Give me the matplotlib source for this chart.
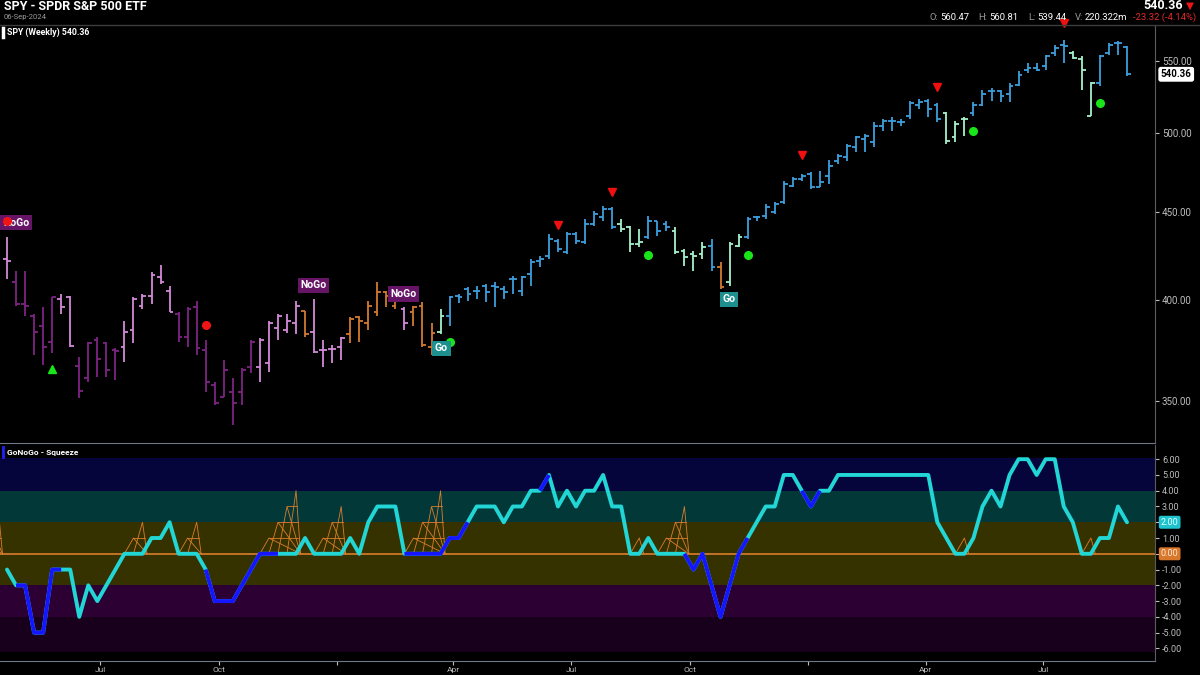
import numpy as np
import pandas as pd
import matplotlib
matplotlib.use('Agg')
import matplotlib.pyplot as plt
from matplotlib.lines import Line2D
from matplotlib.ticker import NullLocator, NullFormatter

plt.rcParams['font.family'] = ['Roboto', 'DejaVu Sans']

# weekly SPY bars (22-Apr-2022 .. 06-Sep-2024)
opens = [422.5, 409.7, 397.9, 391.5, 386.3, 378.6, 400.5, 401.6, 366.7, 360.9,
         379.6, 378.1, 374.6, 376.1, 384.7, 396.8, 402.1, 412.4, 404.8, 392.6,
         381.1, 396.3, 374.6, 357.5, 351.8, 354.2, 354.2, 366.2, 366.2, 368.1,
         385.7, 384.7, 388.3, 394.1, 383.7, 374.6, 375.1, 376.1, 382.2, 391.0,
         388.3, 393.6, 404.3, 396.8, 395.2, 393.6, 396.8, 376.1, 383.7, 391.5,
         402.1, 405.9, 404.8, 407.5, 407.5, 405.9, 411.3, 404.8, 414.1, 421.4,
         424.2, 432.8, 426.5, 436.9, 432.2, 442.7, 446.9, 451.7, 442.7, 441.0,
         431.1, 435.1, 444.5, 442.7, 438.6, 427.1, 425.4, 425.4, 429.9, 418.0,
         409.7, 429.9, 435.1, 446.9, 447.5, 449.9, 456.0, 465.8, 470.2, 473.4,
         465.2, 472.1, 481.6, 484.2, 490.7, 496.0, 494.0, 504.7, 508.1, 507.4,
         511.4, 518.4, 521.8, 518.4, 512.9, 497.3, 509.4, 512.9, 518.4, 528.2,
         528.2, 526.7, 532.4, 543.2, 544.7, 546.1, 555.7, 561.7, 555.7, 551.3,
         511.4, 533.9, 555.7, 563.2, 560.47]
highs = [435.1, 415.8, 415.8, 392.6, 396.3, 401.6, 403.2, 402.1, 371.1, 378.6,
         381.1, 378.6, 375.6, 388.9, 401.6, 403.2, 415.2, 419.1, 407.5, 393.6,
         396.3, 399.4, 379.6, 358.9, 369.6, 360.9, 365.7, 379.6, 380.6, 388.9,
         392.6, 392.6, 399.4, 394.1, 400.5, 379.6, 377.1, 381.1, 391.0, 391.5,
         399.4, 409.7, 404.8, 404.3, 396.3, 396.8, 398.9, 388.3, 395.2, 402.1,
         403.2, 407.0, 407.5, 408.6, 409.7, 407.5, 413.0, 413.0, 422.5, 424.2,
         436.9, 433.9, 438.0, 438.0, 445.7, 450.5, 453.5, 452.9, 445.7, 441.6,
         439.8, 447.5, 444.5, 444.5, 441.0, 428.2, 427.1, 432.2, 433.9, 420.8,
         432.2, 436.9, 446.9, 447.5, 454.7, 456.0, 468.9, 471.5, 473.4, 474.6,
         475.2, 482.3, 486.2, 492.7, 498.0, 499.3, 507.4, 509.4, 510.8, 509.4,
         521.8, 523.2, 523.2, 519.8, 514.2, 508.1, 510.8, 521.1, 528.9, 530.3,
         528.9, 533.9, 542.5, 548.3, 548.3, 554.2, 561.7, 565.4, 557.2, 553.5,
         535.2, 554.2, 563.2, 564.7, 560.81]
lows = [411.3, 396.8, 391.5, 372.1, 367.2, 373.1, 392.6, 376.1, 351.3, 358.9,
        361.3, 361.3, 359.9, 368.6, 378.1, 395.2, 397.9, 408.6, 393.6, 378.6,
        376.1, 372.1, 354.2, 348.1, 351.8, 338.9, 348.1, 363.3, 358.9, 363.7,
        379.6, 383.2, 382.2, 381.1, 373.1, 366.2, 368.1, 369.6, 378.1, 378.6,
        384.7, 391.5, 396.3, 395.2, 384.7, 386.3, 376.1, 372.1, 382.2, 386.3,
        398.4, 399.4, 400.5, 398.9, 396.3, 400.5, 403.2, 402.1, 407.5, 418.0,
        422.5, 426.5, 425.4, 431.1, 431.1, 441.6, 444.5, 439.8, 438.0, 426.5,
        429.3, 433.9, 435.7, 438.6, 425.4, 418.6, 415.8, 422.5, 415.8, 405.9,
        407.5, 429.3, 433.9, 444.5, 445.7, 448.7, 454.7, 465.2, 468.9, 463.9,
        465.2, 467.1, 479.7, 481.6, 487.4, 487.4, 490.7, 501.4, 501.4, 504.7,
        509.4, 516.3, 510.8, 507.4, 492.7, 494.0, 498.0, 511.4, 517.7, 521.8,
        521.1, 521.1, 531.7, 541.1, 542.5, 543.2, 553.5, 548.3, 551.3, 528.9,
        511.4, 531.7, 554.2, 554.2, 539.44]
closes = [421.4, 397.9, 396.8, 383.7, 376.1, 401.6, 396.3, 376.6, 354.6, 378.1,
          370.1, 364.7, 374.1, 383.7, 400.5, 402.1, 413.5, 409.7, 393.6, 381.1,
          395.2, 375.6, 358.9, 349.0, 364.7, 349.0, 364.7, 378.6, 379.6, 388.3,
          391.5, 388.9, 396.8, 382.2, 373.6, 374.6, 375.1, 380.6, 389.9, 388.9,
          396.8, 404.3, 402.1, 400.5, 388.3, 396.3, 377.1, 383.2, 391.5, 401.6,
          401.6, 403.2, 404.8, 404.3, 407.0, 404.3, 411.3, 412.4, 420.8, 422.5,
          433.9, 428.2, 436.9, 432.8, 442.7, 448.7, 451.7, 441.0, 439.8, 431.1,
          432.2, 444.5, 438.6, 441.0, 426.5, 423.6, 424.2, 429.3, 418.0, 407.0,
          431.1, 435.1, 445.7, 446.9, 452.9, 454.7, 467.1, 470.2, 472.1, 465.2,
          468.3, 478.4, 484.9, 491.4, 497.3, 498.0, 504.7, 508.1, 508.1, 507.4,
          519.8, 521.1, 516.3, 509.4, 494.7, 506.1, 509.4, 518.4, 526.7, 528.2,
          525.3, 531.7, 539.6, 544.7, 543.2, 553.5, 559.4, 560.9, 552.0, 543.2,
          533.9, 553.5, 561.7, 563.2, 540.36]

# GoNoGo state per bar: P strong nogo, p weak nogo, o neutral, g weak go, b strong go
bar_state = ("pPPPPPppPPPPPppppppPPPPPP"
             "PPPpppppoppppoooooopooogb"
             "bbbbbbbbbbbbbbbbbbgggbbbg"
             "gggboggbbbbbbbbbbbbbbbbbb"
             "bbbbgggbbbbbbbbbbbgggbbbb")

# GoNoGo oscillator
osc = [-1, -2, -2, -5, -5, -1, -1, -1, -4, -2,
       -3, -2, -1, 0, 0, 0, 1, 1, 2, 0,
       0, 0, -1, -3, -3, -3, -2, -1, 0, 0,
       0, 0, 0, 1, 0, 0, 0, 0, 1, 0,
       2, 3, 3, 3, 0, 0, 0, 0, 0, 1,
       1, 2, 3, 3, 3, 2, 3, 3, 4, 4,
       5, 3, 4, 3, 4, 4, 5, 3, 3, 0,
       0, 1, 0, 0, 0, 0, -1, 0, -2, -4,
       -2, 0, 1, 2, 3, 3, 5, 5, 4, 3,
       4, 4, 5, 5, 5, 5, 5, 5, 5, 5,
       5, 5, 5, 2, 1, 0, 0, 1, 3, 4,
       3, 5, 6, 6, 5, 6, 6, 3, 2, 0,
       0, 1, 1, 3, 2]
osc_blue_runs = [(1, 6), (22, 30), (44, 51), (59, 60), (75, 82), (88, 90)]
squeeze_peak_bar = [-1, 15, 21, 32, 37, 48, 70, 75, 106, 120]
squeeze_peak_level = [3, 2, 2, 4, 3, 4, 1, 3, 1, 1]

# signals
go_dot_bar = [49, 71, 82, 107, 121]
go_dot_price = [378.6, 424.8, 424.8, 501.4, 520.4]
nogo_dot_bar = [0, 22]
nogo_dot_price = [444.5, 387.3]
ct_up_bar = [5]
ct_up_price = [365.2]
ct_down_bar = [61, 67, 88, 103, 117]
ct_down_price = [442.2, 462.1, 485.5, 531.0, 578.4]
label_text = ["NoGo", "NoGo", "NoGo", "Go", "Go"]
label_bar = [1.0, 33.9, 43.9, 48.1, 79.9]
label_price = [443.6, 408.1, 403.4, 375.3, 400.5]

price_ticks = [350, 400, 450, 500, 550]
osc_ticks = [6, 5, 4, 3, 2, 1, 0, -1, -2, -3, -4, -5, -6]
first_week = pd.Timestamp('2022-04-20')
quarter_starts = pd.date_range('2022-07-01', '2024-07-01', freq='QS')

bar_colors = {'P': '#7e2384', 'p': '#d48ad8', 'o': '#d27a30',
              'g': '#a6f2cc', 'b': '#3c9fdc'}
CYAN = '#22d6d6'
BLUE = '#1515ff'
ORANGE = '#dc7d2c'
GRAY = '#bdbdbd'

W, H = 1200, 675
fig = plt.figure(figsize=(12, 6.75), dpi=100, facecolor='black')
ax = fig.add_axes([0, 1 - 443 / H, 1155 / W, (443 - 25) / H])
ax2 = fig.add_axes([0, 1 - 661 / H, 1155 / W, (661 - 445) / H])
for a in (ax, ax2):
    a.set_facecolor('black')
    for s in ('left', 'top'):
        a.spines[s].set_visible(False)
    a.spines['right'].set_color('#5c5c5c')
    a.spines['bottom'].set_color('#6f7886')

# ---- price panel
x = np.arange(len(closes))
cols = [bar_colors[c] for c in bar_state]
ax.vlines(x, lows, highs, colors=cols, lw=1.3)
ax.hlines(opens, x - 0.42, x, colors=cols, lw=1.3)
ax.hlines(closes, x, x + 0.42, colors=cols, lw=1.3)

ax.plot(go_dot_bar, go_dot_price, 'o', color='#19e619', ms=5.5, zorder=5)
ax.plot(ct_up_bar, ct_up_price, '^', color='#19e619', ms=6, zorder=5)
ax.plot(ct_down_bar, ct_down_price, 'v', color='#f01010', ms=6, zorder=5,
        clip_on=False)
for t, b, p in zip(label_text, label_bar, label_price):
    fc = '#1d8f8f' if t == 'Go' else '#661466'
    ax.text(b, p, t, color='white', fontsize=7.5, fontweight='bold',
            ha='center', va='center', zorder=6,
            bbox=dict(boxstyle='square,pad=0.25', fc=fc, ec='none'))
ax.plot(nogo_dot_bar, nogo_dot_price, 'o', color='#f01414', ms=5.5, zorder=7)

ax.set_yscale('log')
ax.set_ylim(330.8, 577)
ax.set_xlim(-0.775, 127.1)
ax.set_yticks(price_ticks)
ax.set_yticklabels([f'{v:.2f}' for v in price_ticks])
ax.yaxis.set_minor_locator(NullLocator())
ax.yaxis.set_minor_formatter(NullFormatter())
ax.set_xticks([])
ax.tick_params(axis='y', which='both', left=False, labelleft=False,
               right=True, labelright=True, colors=GRAY, labelsize=7,
               length=3, pad=2)
ax.text(1.005, closes[-1], f'{closes[-1]:.2f}', transform=ax.get_yaxis_transform(),
        fontsize=7, fontweight='bold', color='black', va='center', ha='left',
        clip_on=False, bbox=dict(boxstyle='round,pad=0.25', fc='white', ec='none'))

# ---- oscillator panel
bands = [(4, 6.1, '#05053c'), (2, 4, '#033838'), (-2, 2, '#363200'),
         (-4, -2, '#2c0032'), (-6.2, -4, '#18001c')]
for lo, hi, c in bands:
    ax2.axhspan(lo, hi, color=c, lw=0, zorder=0)
ax2.axhline(0, color=ORANGE, lw=1.2, zorder=2)

for apex, n in zip(squeeze_peak_bar, squeeze_peak_level):
    a0 = apex - n
    for m in range(1, n + 1):
        ax2.plot([a0 + m - 1, a0 + m, a0 + n + 0.5], [0, m, 0], color=ORANGE,
                 lw=0.6, zorder=2)
    for l in range(1, n):
        ax2.plot([a0 + l, a0 + n + 0.5 - 0.5 * l / n], [l, l], color=ORANGE,
                 lw=0.6, zorder=2)

ax2.plot(x, osc, color=CYAN, lw=2.8, zorder=3, solid_capstyle='round')
for s, e in osc_blue_runs:
    ax2.plot(x[s:e + 1], osc[s:e + 1], color=BLUE, lw=2.8, zorder=4,
             solid_capstyle='butt')

ax2.set_xlim(-0.775, 127.1)
ax2.set_ylim(-6.8, 6.9)
ax2.set_yticks(osc_ticks)
ax2.set_yticklabels([f'{v:.2f}' for v in osc_ticks])
ax2.tick_params(axis='y', left=False, labelleft=False, right=True,
                labelright=True, colors=GRAY, labelsize=6.5, length=3, pad=2)
qpos = [(d - first_week).days / 7 for d in quarter_starts]
ax2.set_xticks(qpos)
ax2.set_xticklabels(['' if d.month == 1 else d.strftime('%b') for d in quarter_starts])
ax2.tick_params(axis='x', colors=GRAY, labelsize=6, length=3, pad=1)

ax2.text(1.005, osc[-1], f'{osc[-1]:.2f}', transform=ax2.get_yaxis_transform(),
         fontsize=6.5, color='#e6ffff', va='center', ha='left', clip_on=False,
         bbox=dict(boxstyle='round,pad=0.22', fc='#1fc3cf', ec='none'))
ax2.text(1.005, 0, '0.00', transform=ax2.get_yaxis_transform(),
         fontsize=6.5, color='#fbe9d8', va='center', ha='left', clip_on=False,
         bbox=dict(boxstyle='round,pad=0.22', fc='#d9782a', ec='none'))

# ---- header
def fx(px):
    return px / W


def fy(py):
    return 1 - py / H


fig.add_artist(Line2D([0, 1], [fy(24.5), fy(24.5)], color='#3d3d3d', lw=1,
                      transform=fig.transFigure))
fig.text(fx(4), fy(9.5), 'SPY - SPDR S&P 500 ETF', color='white', fontsize=9,
         fontweight='bold', va='baseline')
fig.text(fx(4), fy(17), '06-Sep-2024', color='#9a9a9a', fontsize=5.5, va='center')
fig.add_artist(Line2D([fx(3), fx(3)], [fy(28), fy(37)], color='white', lw=2.5,
                      transform=fig.transFigure))
fig.text(fx(7), fy(32.5), 'SPY (Weekly) 540.36', color='white', fontsize=6.3,
         fontweight='bold', va='center')
fig.text(fx(1183), fy(9), '540.36', color='white', fontsize=9,
         fontweight='bold', va='baseline', ha='right')
fig.text(fx(1186), fy(9), '▼', color='#f01414', fontsize=7.5, va='baseline')

hdr = [(929, 'O:', '#9a9a9a'), (940, '560.47', 'white'),
       (978, 'H:', '#9a9a9a'), (989, '560.81', 'white'),
       (1028, 'L:', '#9a9a9a'), (1037, '539.44', 'white'),
       (1075, 'V:', '#9a9a9a'), (1085, '220.322m', 'white'),
       (1133, '-23.32 (-4.14%)', '#e52a2a')]
for px, t, c in hdr:
    fig.text(fx(px), fy(17), t, color=c, fontsize=6.8, va='center')

fig.add_artist(Line2D([fx(3), fx(3)], [fy(447), fy(457)], color='#2020ff', lw=2,
                      transform=fig.transFigure))
fig.text(fx(7), fy(452), 'GoNoGo - Squeeze', color='white', fontsize=6,
         fontweight='bold', va='center')

fig.savefig('out.png', dpi=100, facecolor='black')
